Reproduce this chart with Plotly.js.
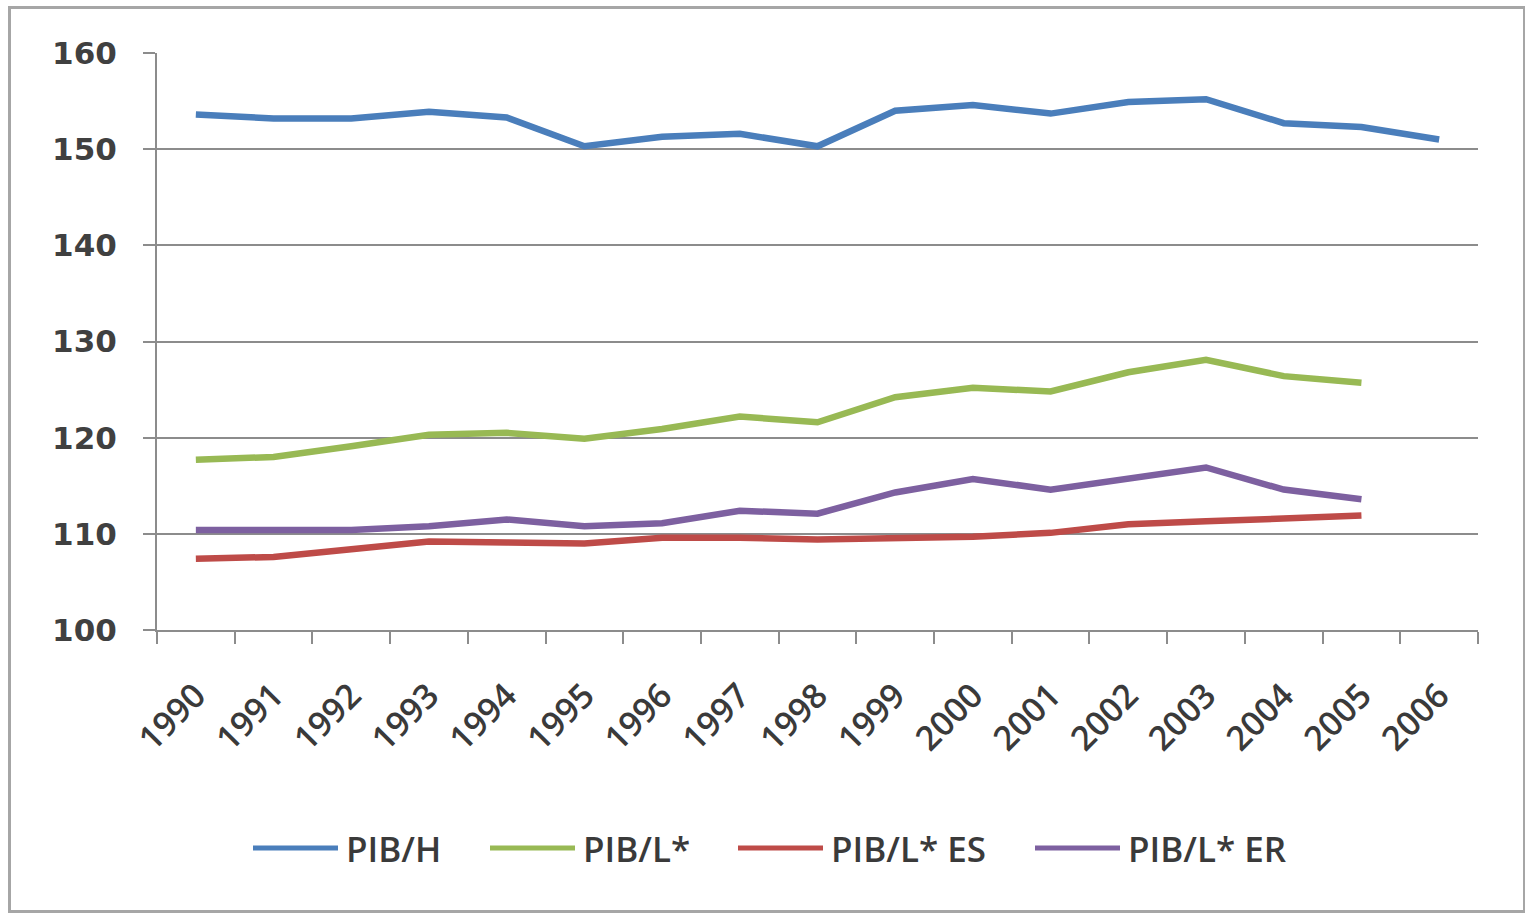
<!DOCTYPE html>
<html>
<head>
<meta charset="utf-8">
<script src="https://cdn.plot.ly/plotly-3.0.1.min.js"></script>
<style>
  html, body { margin: 0; padding: 0; background: #ffffff; }
  #chart { width: 1525px; height: 916px; }
  #frame { position: absolute; left: 8px; top: 6px; width: 1512px; height: 901px;
           border: 3px solid #a6a6a6; pointer-events: none; }
</style>
</head>
<body>
<div id="chart"></div>
<div id="frame"></div>
<script>
// ---- data ----
const years = ['1990','1991','1992','1993','1994','1995','1996','1997','1998',
               '1999','2000','2001','2002','2003','2004','2005','2006'];
const seriesNames = ['PIB/H', 'PIB/L*', 'PIB/L* ES', 'PIB/L* ER'];
const pibH   = [153.6,153.2,153.2,153.9,153.3,150.3,151.3,151.6,150.3,154.0,154.6,153.7,154.9,155.2,152.7,152.3,151.0];
const pibL   = [117.7,118.0,119.1,120.3,120.5,119.9,120.9,122.2,121.6,124.2,125.2,124.8,126.8,128.1,126.4,125.7,null];
const pibLES = [107.4,107.6,108.4,109.2,109.1,109.0,109.6,109.6,109.4,109.6,109.7,110.1,111.0,111.3,111.6,111.9,null];
const pibLER = [110.4,110.4,110.4,110.8,111.5,110.8,111.1,112.4,112.1,114.3,115.7,114.6,115.7,116.9,114.6,113.6,null];
const yTicks = [100,110,120,130,140,150,160];

// ---- style ----
const colors = ['#4a7ebb', '#98b954', '#be4b48', '#7d60a0'];
const values = [pibH, pibL, pibLES, pibLER];

const traces = values.map((v, i) => ({
  type: 'scatter', mode: 'lines', name: seriesNames[i],
  x: years, y: v,
  line: { color: colors[i], width: 6.5 },
  connectgaps: false, showlegend: false
}));

// custom legend (layout decoration)
const M = { l: 157, r: 47, t: 53, b: 286 };
const W = 1525 - M.l - M.r, H = 916 - M.t - M.b;
const legendStartsPx = [253, 490, 738, 1035];
const legendLinePx = 85, legendGapPx = 6, legendYPx = 848;
const px2x = p => (p - M.l) / W;
const legY = (916 - M.b - legendYPx) / H;

const shapes = [], annotations = [];
seriesNames.forEach((n, i) => {
  const x0 = legendStartsPx[i];
  shapes.push({ type: 'line', xref: 'paper', yref: 'paper',
    x0: px2x(x0), x1: px2x(x0 + legendLinePx), y0: legY, y1: legY,
    line: { color: colors[i], width: 5 } });
  annotations.push({ xref: 'paper', yref: 'paper', x: px2x(x0 + legendLinePx + legendGapPx), y: legY,
    xanchor: 'left', yanchor: 'middle', showarrow: false, text: n,
    font: { family: 'Open Sans, Noto Sans, sans-serif', size: 35, color: '#3a3a3a', weight: 600 } });
});

const layout = {
  width: 1525, height: 916,
  margin: M,
  paper_bgcolor: '#ffffff', plot_bgcolor: '#ffffff',
  showlegend: false,
  xaxis: {
    type: 'category', range: [-0.5, 16.5],
    tickson: 'boundaries', ticks: 'outside', ticklen: 12, tickwidth: 2, tickcolor: '#8c8c8c',
    showgrid: false, showline: true, linecolor: '#8c8c8c', linewidth: 2,
    tickangle: -45, ticklabelstandoff: 30,
    tickfont: { family: 'Open Sans, Noto Sans, sans-serif', size: 34, color: '#3a3a3a', weight: 600 },
    zeroline: false
  },
  yaxis: {
    range: [100, 160], tickvals: yTicks, ticktext: yTicks.map(String),
    ticks: 'outside', ticklen: 12, tickwidth: 2, tickcolor: '#8c8c8c',
    showgrid: true, gridcolor: '#8c8c8c', gridwidth: 2,
    showline: true, linecolor: '#8c8c8c', linewidth: 2,
    ticklabelstandoff: 20,
    tickfont: { family: 'DejaVu Sans, sans-serif', size: 31, color: '#404040', weight: 'bold' },
    zeroline: false
  },
  shapes: shapes,
  annotations: annotations
};

Plotly.newPlot('chart', traces, layout, { displayModeBar: false, staticPlot: true });
</script>
</body>
</html>
